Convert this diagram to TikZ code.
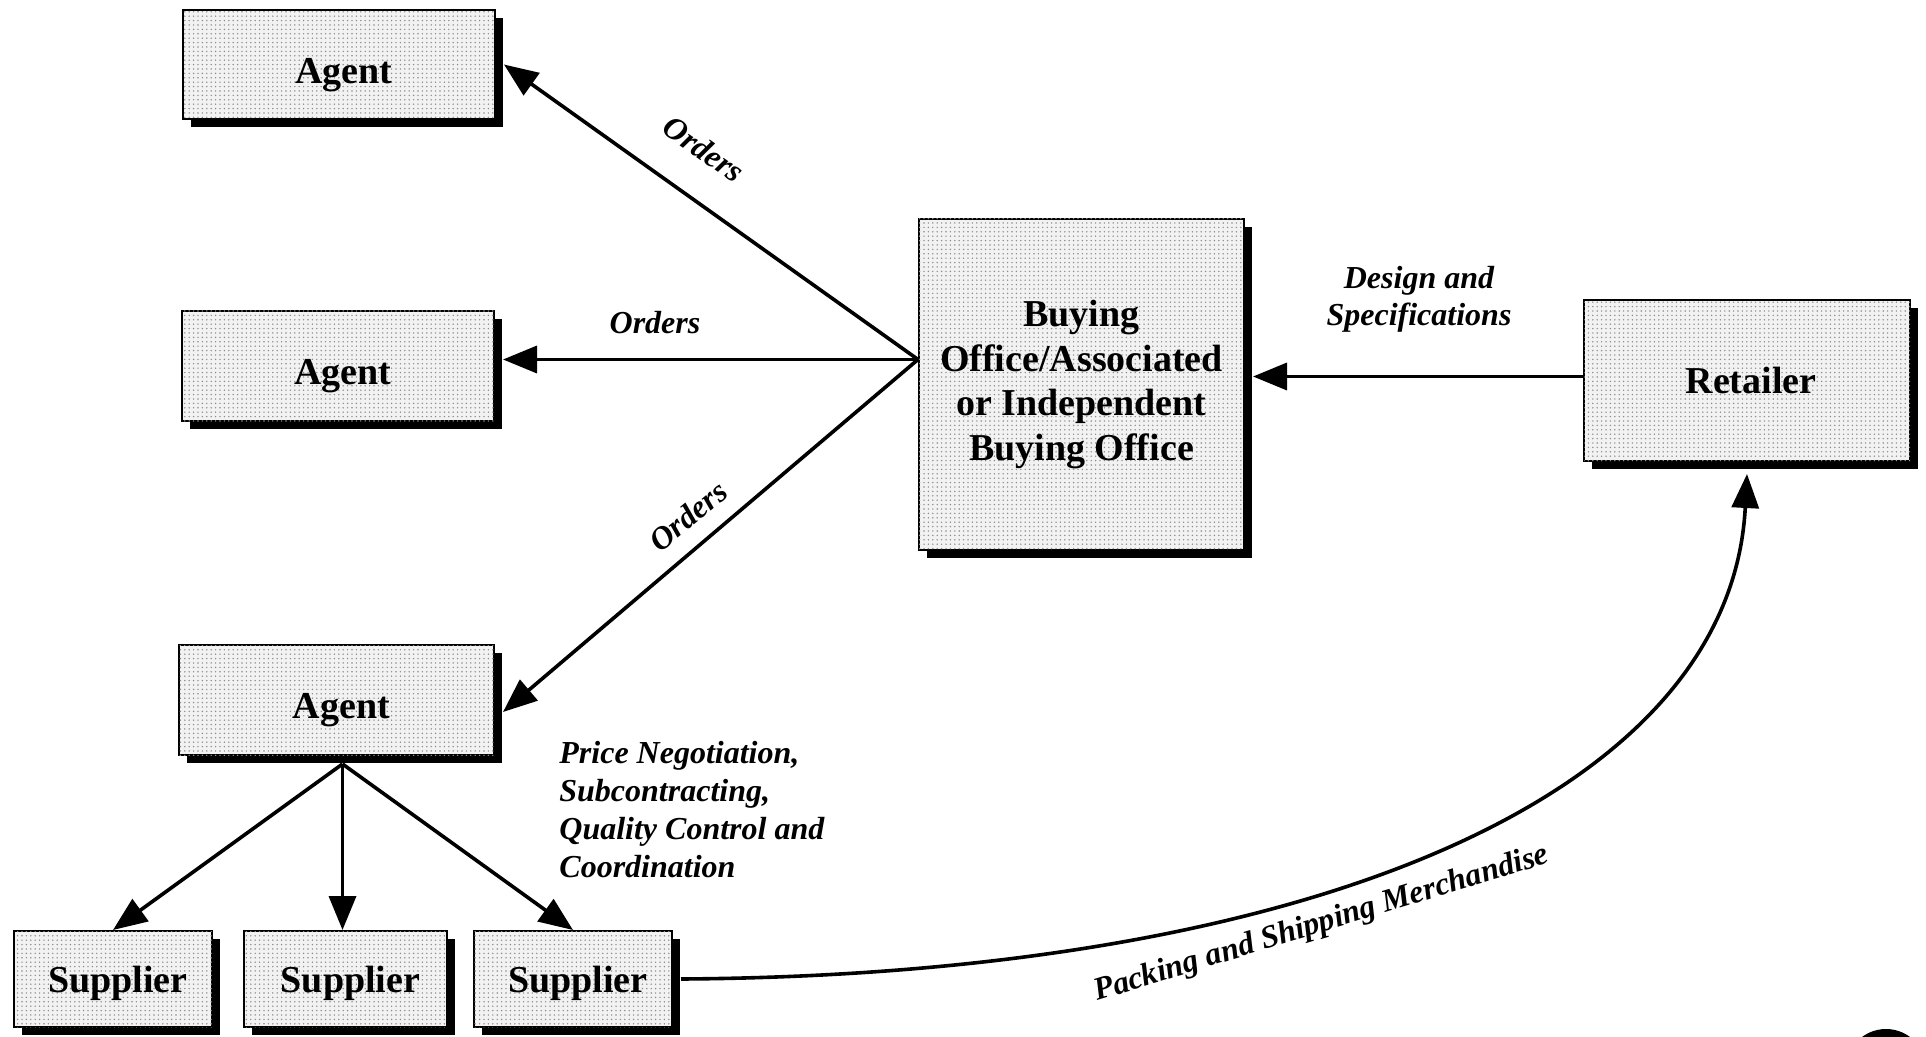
\documentclass[tikz,border=0pt]{standalone}
\usepackage{fontspec}
\setmainfont{Liberation Serif}
\usetikzlibrary{arrows.meta,shadows,patterns.meta,calc}

\newcommand\bxfont{\fontsize{19}{22.3}\selectfont\bfseries}
\newcommand\lblfont{\fontsize{16}{19}\selectfont\bfseries\itshape}

\tikzset{
  box/.style={draw=black, line width=1pt, fill=black!5,
    drop shadow={shadow xshift=4pt, shadow yshift=-4pt, fill=black, opacity=1},
    postaction={pattern={Dots[radius=0.4pt,distance=2.2pt]}, pattern color=black!45},
    inner sep=0pt, font=\bxfont},
  % single-line boxes: text sits a little right of and below the centre
  agentbox/.style={box, execute at begin node={\hspace*{5pt}}, text height=18.6pt, text depth=0pt},
  supbox/.style={box, execute at begin node={\hspace*{5pt}}, text height=13.3pt, text depth=0pt},
  conn/.style={line width=1.8pt, -{Triangle[length=17pt,width=13.5pt]}},
  lbl/.style={inner sep=0pt, font=\lblfont}
}

\begin{document}
\begin{tikzpicture}[x=0.5pt, y=-0.5pt]
\useasboundingbox (0,0) rectangle (1926,1037);

% boxes
\node[agentbox, minimum width=156pt,   minimum height=54.5pt] (a1) at (339,64.5) {Agent};
\node[agentbox, minimum width=156pt,   minimum height=55pt]   (a2) at (338,366)  {Agent};
\node[agentbox, minimum width=157.5pt, minimum height=55pt]   (a3) at (336.5,700) {Agent};
\node[box, align=center, minimum width=162.5pt, minimum height=165.5pt] (b) at (1081.5,384.5)
  {Buying\\Office/Associated\\or Independent\\Buying Office};
\node[box, execute at begin node={\hspace*{4pt}}, minimum width=163pt, minimum height=80.5pt] (r) at (1747,380.5) {Retailer};
\node[supbox, minimum width=99pt,    minimum height=48pt]   (s1) at (113,979)   {Supplier};
\node[supbox, minimum width=101.5pt, minimum height=48pt]   (s2) at (345.5,979) {Supplier};
\node[supbox, minimum width=99pt,    minimum height=48pt]   (s3) at (573,979)   {Supplier};

% orders from the buying office to the agents
\coordinate (bo) at ([yshift=12.5pt]b.west);
\coordinate (a2in) at ([xshift=4pt]a2.east);
\draw[conn] (bo) -- ([xshift=4pt]a1.east);
\draw[conn] (bo) -- (a2in |- bo);
\draw[conn] (bo) -- ([xshift=4pt,yshift=-6pt]a3.east);

% retailer to buying office
\coordinate (rout) at ([yshift=2pt]r.west);
\coordinate (bin) at ([xshift=4pt]b.east);
\draw[conn] (rout) -- (bin |- rout);

% agent to suppliers
\coordinate (a3out) at ([xshift=3pt,yshift=-4pt]a3.south);
\draw[conn] (a3out) -- (s1.north);
\draw[conn] (a3out) -- (s2.north -| a3out);
\draw[conn] (a3out) -- (s3.north);

% shipping back to the retailer
\draw[conn] ([xshift=4pt]s3.east) .. controls (1300,975) and (1730,800) .. ([yshift=-6pt]r.south);

% labels
\node[lbl, rotate=-35.4] (o1) at (704,149) {Orders};
\node[lbl] (o2) at (655,323) {Orders};
\node[lbl, rotate=39.8] (o3) at (688,516) {Orders};
\node[lbl, align=center, font=\fontsize{16}{18.5}\selectfont\bfseries\itshape] (ds) at (1419,299)
  {Design and\\Specifications};
\node[lbl, align=left, anchor=north west] (pn) at (559,741)
  {Price Negotiation,\\Subcontracting,\\Quality Control and\\Coordination};
\node[lbl, rotate=17, anchor=base west] (ps) at (1097,1001) {Packing and Shipping Merchandise};

% seal peeking in at the lower right corner
\begin{scope}
  \clip (0,0) rectangle (1926,1037);
  \fill (1886,1069) circle[radius=20pt];
\end{scope}
\end{tikzpicture}
\end{document}
